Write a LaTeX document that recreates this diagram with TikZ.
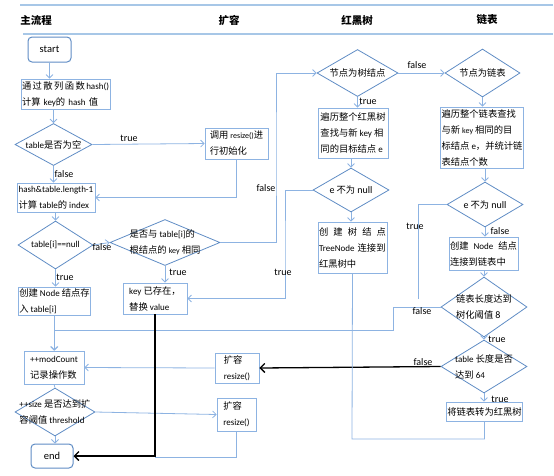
\documentclass[tikz,border=0pt]{standalone}
\usepackage{fontspec}
\setmainfont{Noto Sans CJK SC}
\newfontfamily\latf{Carlito}
\usetikzlibrary{arrows.meta,shapes.geometric}
\definecolor{lnb}{HTML}{8DB3E2}
\definecolor{bxb}{HTML}{8DB3E2}
\definecolor{dib}{HTML}{5F8CC4}
\definecolor{hdb}{HTML}{A7C7E7}
\newcommand\lat[1]{{\latf\fontsize{9}{16}\selectfont #1}}
\newcommand\lats[1]{{\latf\fontsize{8}{16}\selectfont #1}}
\newcommand\latb[1]{{\latf\fontsize{10}{16}\selectfont #1}}
\newcommand\spr{\hskip 0pt plus 1filll\relax}
\begin{document}
\begin{tikzpicture}[x=1pt,y=-1pt,
  every node/.style={font=\fontsize{9.3}{16}\selectfont},
  bx/.style={draw=bxb,line width=0.8pt,rectangle,inner sep=1pt,align=left},
  rbx/.style={draw=dib,line width=1pt,rounded corners=4pt,rectangle,inner sep=0pt,font=\latf\fontsize{10.5}{12}\selectfont},
  dia/.style={draw=dib,line width=0.8pt,diamond,inner sep=0pt},
  dtx/.style={align=left,inner sep=0pt},
  lab/.style={font=\latf\fontsize{10}{12}\selectfont,inner sep=0pt},
  hd/.style={font=\fontsize{10.5}{12}\selectfont\bfseries,inner sep=0pt},
  ar/.style={draw=lnb,line width=0.8pt,-{Straight Barb[length=3.5pt,width=7pt]}},
  ln/.style={draw=lnb,line width=0.8pt},
  blk/.style={draw=black,line width=1.3pt,-{Straight Barb[length=4.5pt,width=9pt]}},
  hdr/.style={draw=hdb,line width=1.5pt}]
\useasboundingbox (0,0) rectangle (554,475);

% header
\draw[hdr] (20,5) -- (553,5);
\draw[hdr] (23,34) -- (553,34);
\node[hd] (h1) at (36,20) {主流程};
\node[hd] (h2) at (229,20) {扩容};
\node[hd] (h3) at (357,20) {红黑树};
\node[hd] (h4) at (487,20) {链表};

% main column
\node[rbx,minimum width=43pt,minimum height=25pt] (start) at (49.5,49.5) {start};
\node[bx,minimum height=30pt,text width=87pt] (hashbox) at (65.5,94)
  {通\spr 过\spr 散\spr 列\spr 函\spr 数\spr\lat{hash()}\\计算~\lat{key}的~\lat{hash}~值};
\node[dia,minimum width=77pt,minimum height=42pt] (d1) at (53.5,144.5) {};
\node[dtx] (t1) at (d1) {\lat{table}是否为空};
\node[bx,minimum width=63pt,minimum height=31pt] (init) at (236.5,143.5) {调用~\lats{resize()}进\\行初始化};
\node[bx,minimum width=78pt,minimum height=29pt] (idx) at (56,197.5) {\lat{hash\&table.length-1}\\计算~\lat{table}的~\lat{index}};
\node[dia,minimum width=75pt,minimum height=48pt] (d2) at (55.5,245) {};
\node[dtx] (t2) at (d2) {\lat{table[i]==null}};
\node[dia,minimum width=110pt,minimum height=46pt] (d3) at (165,242.5) {};
\node[dtx] (t3) at (d3) {是否与~\lat{table[i]}的\\根结点的~\lats{key}~相同};
\node[bx,minimum width=71pt,minimum height=28pt] (newnode) at (54.5,301) {创建~\lat{Node}~结点存\\入~\lat{table[i]}};
\node[bx,minimum width=64pt,minimum height=31pt] (keybox) at (155,298.5) {\lat{key}~已存在，\\替换~\lat{value}};

% red-black tree column
\node[dia,minimum width=81pt,minimum height=47pt] (d4) at (357.5,73) {};
\node[dtx] (t4) at (d4) {节点为树结点};
\node[bx,minimum width=70pt,minimum height=50pt] (tbox) at (353,133) {遍历整个红黑树\\查找与新~\lat{key}~相\\同的目标结点~\lat{e}};
\node[dia,minimum width=76pt,minimum height=44pt] (d6) at (351,190) {};
\node[dtx] (t6) at (d6) {\latb{e}~不为~\latb{null}};
\node[bx,minimum height=51pt,text width=67pt] (tnode) at (352.5,247.5) {创\spr 建\spr 树\spr 结\spr 点\\\lat{TreeNode}~连接到\\红黑树中};

% linked list column
\node[dia,minimum width=75pt,minimum height=48pt] (d5) at (482.5,73) {};
\node[dtx] (t5) at (d5) {节点为链表};
\node[bx,minimum width=80pt,minimum height=61pt] (lbox) at (482,137.5) {遍历整个链表查找\\与新~\lats{key}~相同的目\\标结点~\lat{e}，并统计链\\表结点个数};
\node[dia,minimum width=76pt,minimum height=45pt] (d7) at (485,204.5) {};
\node[dtx] (t7) at (d7) {\latb{e}~不为~\latb{null}};
\node[bx,minimum height=33pt,text width=67pt] (lnode) at (483.5,253.5) {创建\spr\lat{Node}\spr 结点\\连接到链表中};
\node[dia,minimum width=86pt,minimum height=60pt] (d8) at (484,307) {};
\node[dtx] (t8) at (d8) {链表长度达到\\树化阈值~\latb{8}};
\node[dia,minimum width=86pt,minimum height=53pt] (d9) at (484,366.5) {};
\node[dtx] (t9) at (d9) {\lat{table}~长度是否\\达到~\lat{64}};
\node[bx,minimum width=75pt,minimum height=19pt] (conv) at (484.5,411.5) {将链表转为红黑树};

% bottom part
\node[bx,minimum width=44pt,minimum height=30pt] (rs1) at (237,368) {扩容\\\lat{resize()}};
\node[bx,minimum width=60pt,minimum height=33pt] (mod) at (54,367.5) {\lat{++modCount}\\记录操作数};
\node[dia,minimum width=80pt,minimum height=48pt] (d10) at (55,412) {};
\node[dtx] (t10) at (d10) {\lat{++size}~是否达到扩\\容阈值~\lat{threshold}};
\node[bx,minimum width=39pt,minimum height=33pt] (rs2) at (236.5,414.5) {扩容\\\lat{resize()}};
\node[rbx,minimum width=42pt,minimum height=24pt] (end) at (52,456) {end};

% helper coordinates
\coordinate (c1) at (276,150);
\coordinate (c2) at (285,250);
\coordinate (c3) at (418,298.5);
\coordinate (c4) at (393,330);
\coordinate (c5) at (352,439);
\coordinate (c6) at (155,457);

% connectors
\draw[ar] (start.south) -- (start.south |- hashbox.north);
\draw[ar] (d1.north |- hashbox.south) -- (d1.north);
\draw[ar] (d1.east) -- (init.west);
\draw[ar] (init.south) |- (idx.east);
\draw[ar] (d1.south) -- (d1.south |- idx.north);
\draw[ar] (d2.north |- idx.south) -- (d2.north);
\draw[ar] (d2.east) -- (d3.west);
\draw[ar] (d2.south) -- (d2.south |- newnode.north);
\draw[ar] (d3.south) -- (d3.south |- keybox.north);
\draw[ar] (d3.east) -| (c1) |- (d4.west);
\draw[ar] (d4.east) -- (d5.west);
\draw[ar] (d4.south) -- (d4.south |- tbox.north);
\draw[ar] (d6.north |- tbox.south) -- (d6.north);
\draw[ar] (d6.south) -- (d6.south |- tnode.north);
\draw[ar] (d6.west) -| (c2) |- (keybox.east);
\draw[ar] (d5.south) -- (d5.south |- lbox.north);
\draw[ar] (d7.north |- lbox.south) -- (d7.north);
\draw[ln] (d7.west) -| (c3);
\draw[ar] (d7.south) -- (d7.south |- lnode.north);
\draw[ar] (d8.north |- lnode.south) -- (d8.north);
\draw[ar] (d8.west) -| (c4) -| (mod.north);
\draw[ar] (newnode.south) -- (newnode.south |- mod.north);
\draw[ar] (d8.south) -- (d9.north);
\draw[blk] (d9.west) -- (rs1.east);
\draw[ar] (d9.south) -- (d9.south |- conv.north);
\draw[ln] (conv.south) |- (c5) -- (tnode.south);
\draw[ar] (rs1.west) -- (mod.east);
\draw[ln] (mod.south) -- (d10.north);
\draw[ar] (d10.east) -- (rs2.west);
\draw[ln] (rs2.south) |- (c6);
\draw[blk] (keybox.south) |- (end.east);
\draw[ar] (d10.south) -- (d10.south |- end.north);

% labels
\node[lab] (l1) at (129,138) {true};
\node[lab] (l2) at (64,174) {false};
\node[lab] (l3) at (102,247) {false};
\node[lab] (l4) at (65,277) {true};
\node[lab] (l5) at (178,272) {true};
\node[lab] (l6) at (266,188) {false};
\node[lab] (l7) at (417,65) {false};
\node[lab] (l8) at (368,101) {true};
\node[lab] (l9) at (283,272) {true};
\node[lab] (l10) at (415,226) {true};
\node[lab] (l11) at (500,231) {false};
\node[lab] (l12) at (422,311) {false};
\node[lab] (l13) at (497,339) {true};
\node[lab] (l14) at (423,362) {false};
\node[lab] (l15) at (500,399) {true};
\end{tikzpicture}
\end{document}
